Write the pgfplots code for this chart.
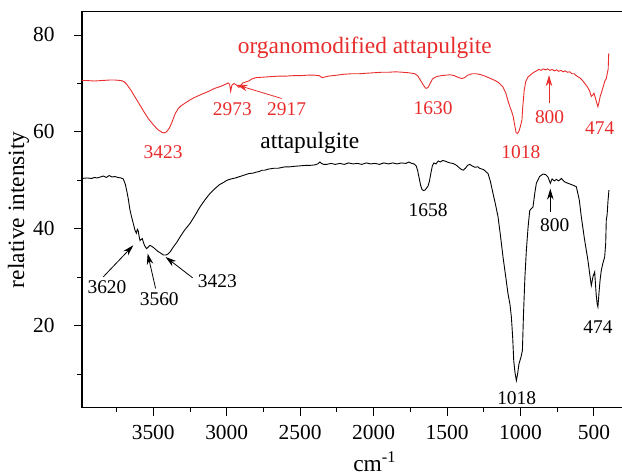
\documentclass[border=0pt]{standalone}
\usepackage{fontspec}
\setmainfont{Liberation Serif}
\usepackage{pgfplots}
\pgfplotsset{compat=1.18}
\usetikzlibrary{arrows.meta}
\definecolor{specred}{RGB}{232,44,44}

\pgfplotstableread{
x y
3985 70.6
3950 70.6
3900 70.5
3850 70.6
3800 70.7
3760 70.7
3720 70.6
3700 70.4
3680 69.8
3650 68.5
3620 67.0
3590 65.5
3560 64.0
3530 62.6
3500 61.5
3470 60.5
3440 59.9
3425 59.8
3410 60.0
3390 60.8
3370 62.2
3350 63.8
3330 64.8
3310 65.4
3280 66.0
3250 66.6
3220 67.1
3190 67.5
3160 67.9
3120 68.4
3080 69.0
3040 69.4
3010 69.8
2990 70.1
2980 69.8
2973 68.4
2965 69.6
2950 70.0
2930 69.6
2917 69.2
2905 69.6
2890 70.1
2870 70.3
2850 70.5
2830 70.9
2800 71.2
2750 71.3
2700 71.4
2650 71.5
2600 71.5
2550 71.6
2500 71.6
2450 71.7
2400 71.7
2370 71.6
2350 71.2
2335 71.3
2310 71.5
2250 71.7
2200 71.9
2150 72.0
2100 72.0
2050 72.1
2000 72.2
1950 72.3
1900 72.3
1850 72.4
1800 72.3
1760 72.2
1720 72.0
1700 71.6
1680 70.6
1660 69.6
1645 69.0
1630 69.1
1615 70.0
1600 70.9
1580 71.3
1560 71.5
1540 71.6
1510 71.7
1480 71.8
1450 71.6
1420 71.2
1400 71.0
1380 71.2
1360 71.7
1330 72.0
1300 72.0
1270 71.8
1240 71.5
1210 71.1
1180 70.7
1150 70.2
1120 69.3
1100 68.0
1085 66.4
1070 65.0
1060 64.2
1050 63.2
1040 61.5
1030 59.8
1020 59.7
1010 60.2
1000 61.2
990 62.5
985 65.0
975 68.5
965 70.3
950 71.3
930 71.8
910 72.3
890 72.6
875 72.9
860 72.7
845 73.0
830 72.8
815 73.0
800 72.7
785 72.9
770 72.6
755 72.8
740 72.5
725 72.7
710 72.4
695 72.6
680 72.3
665 72.4
650 72.0
635 72.0
620 71.6
605 71.3
590 71.0
575 70.5
560 69.9
545 69.3
530 68.5
518 67.3
508 67.6
500 68.0
490 67.0
480 65.9
473 65.2
465 66.2
457 67.4
450 68.0
440 69.0
427 70.4
416 71.0
409 72.1
403 73.0
400 75.9
398 76.2
}\redtab

\pgfplotstableread{
x y
3985 50.4
3950 50.5
3920 50.4
3900 50.6
3880 50.5
3860 50.7
3840 50.9
3820 50.6
3800 51.0
3780 50.7
3760 50.8
3740 50.6
3720 50.5
3704 50.3
3690 49.2
3680 47.8
3670 46.2
3658 43.8
3645 42.2
3635 41.0
3624 39.7
3615 39.1
3608 39.9
3602 39.6
3596 38.4
3590 37.6
3575 38.0
3560 36.6
3545 35.9
3535 36.2
3523 36.6
3505 36.3
3489 35.9
3470 35.4
3450 35.0
3430 34.6
3415 34.6
3400 34.8
3386 35.2
3360 36.4
3340 37.2
3318 38.3
3285 39.8
3250 41.1
3215 42.8
3182 44.5
3150 45.9
3114 47.3
3080 48.3
3050 49.1
3020 49.6
3000 50.0
2970 50.3
2940 50.5
2910 50.8
2880 51.1
2850 51.4
2820 51.5
2800 51.7
2780 51.8
2760 52.1
2740 52.1
2720 52.3
2700 52.4
2680 52.5
2650 52.5
2620 52.7
2600 52.8
2570 52.8
2540 52.9
2500 53.0
2460 53.1
2430 53.1
2400 53.2
2380 53.4
2365 53.8
2355 53.5
2340 53.3
2320 53.3
2290 53.5
2260 53.3
2230 53.5
2200 53.3
2170 53.6
2140 53.4
2110 53.5
2080 53.3
2050 53.6
2020 53.4
1990 53.5
1960 53.3
1930 53.6
1900 53.4
1870 53.6
1840 53.4
1810 53.6
1780 53.5
1760 53.8
1740 53.5
1725 53.4
1710 53.0
1700 52.0
1690 50.5
1680 49.0
1670 48.1
1660 47.9
1650 48.0
1640 48.4
1630 48.8
1620 49.8
1610 51.5
1600 53.0
1590 53.6
1575 53.4
1560 54.0
1545 53.8
1530 54.1
1515 54.0
1500 53.8
1480 53.6
1460 53.5
1440 53.2
1420 52.7
1405 52.3
1390 52.1
1375 52.5
1360 53.1
1345 53.3
1330 53.0
1310 52.7
1290 52.8
1278 52.5
1250 52.2
1221 51.4
1205 49.8
1187 47.3
1170 45.0
1153 42.5
1136 38.5
1119 34.2
1100 30.0
1085 26.6
1072 24.5
1062 21.8
1053 17.5
1046 12.8
1038 10.5
1028 8.7
1020 10.0
1010 12.2
997 13.5
987 14.9
980 22.0
970 30.0
960 35.6
948 40.5
937 43.8
925 44.2
915 44.5
902 47.5
892 49.4
870 50.8
847 51.3
830 51.2
813 50.7
797 49.4
785 50.3
770 49.9
756 50.2
740 49.9
722 50.4
700 49.7
677 49.4
650 49.1
620 48.7
600 46.0
586 42.5
565 38.0
541 33.5
528 30.5
518 28.3
506 30.2
495 31.1
485 26.5
478 24.5
473 23.9
465 27.0
458 29.5
450 31.4
440 32.8
427 34.2
420 37.0
416 41.8
410 43.0
405 45.5
398 48.0
}\blacktab

\begin{document}
\begin{tikzpicture}[
  ann/.style={line width=0.8bp, -{Stealth[length=11bp,width=6.5bp]}}]
\begin{axis}[
  name=ax,
  scale only axis,
  width=545bp, height=396bp,
  xmin=275, xmax=3985, x dir=reverse,
  ymin=3.1, ymax=84.8,
  clip=false,
  axis line style={line width=1.2bp},
  xtick={500,1000,1500,2000,2500,3000,3500},
  minor xtick={750,1250,1750,2250,2750,3250,3750},
  ytick={20,40,60,80},
  minor ytick={10,30,50,70},
  xtick pos=bottom, ytick pos=left,
  tick align=outside,
  major tick length=8bp, minor tick length=4.5bp,
  every tick/.style={black, line width=0.9bp},
  /pgf/number format/assume math mode=true,
  /pgf/number format/1000 sep={},
  tick label style={font=\fontsize{21.5}{25}\selectfont},
  xticklabel style={anchor=base, inner sep=0pt, yshift=-24bp},
  yticklabel style={anchor=east, inner sep=0pt, xshift=-19.3bp},
  xlabel={cm\textsuperscript{-1}},
  ylabel={relative intensity},
  label style={font=\fontsize{23.5}{28}\selectfont},
  xlabel style={at={(axis description cs:0.537,0)}, anchor=base, yshift=-63.5bp},
  ylabel style={at={(axis description cs:-0.1064,0.5)}, anchor=base},
]
\addplot[specred, line width=0.9bp] table[x=x,y=y] {\redtab};
\addplot[black, line width=0.9bp] table[x=x,y=y] {\blacktab};

% curve labels
\node[specred, font=\fontsize{23.5}{28}\selectfont] at (axis cs:2060,77.3) {organomodified attapulgite};
\node[black, font=\fontsize{23.5}{28}\selectfont] at (axis cs:2434,57.7) {attapulgite};

% red annotations
\begin{scope}[specred, every node/.style={font=\fontsize{19.5}{23}\selectfont, inner sep=0pt}]
\node at (axis cs:3433,55.8) {3423};
\node at (axis cs:2961,64.7) {2973};
\node at (axis cs:2592,64.7) {2917};
\node at (axis cs:1595,64.9) {1630};
\node at (axis cs:998,55.9) {1018};
\node at (axis cs:802,63.0) {800};
\node at (axis cs:461,60.8) {474};
\draw[ann] (axis cs:2626,66.9) -- (axis cs:2932,69.7);
\draw[ann] (axis cs:806,65.9) -- (axis cs:806,71.7);
\end{scope}

% black annotations
\begin{scope}[black, every node/.style={font=\fontsize{19.5}{23}\selectfont, inner sep=0pt}]
\node at (axis cs:1629,43.8) {1658};
\node at (axis cs:767,40.7) {800};
\node at (axis cs:1026,5.1) {1018};
\node at (axis cs:473,19.7) {474};
\node at (axis cs:3815,28.0) {3620};
\node at (axis cs:3459,25.6) {3560};
\node at (axis cs:3064,29.2) {3423};
\draw[ann] (axis cs:797,43.5) -- (axis cs:797,48.3);
\draw[ann] (axis cs:3840,30.1) -- (axis cs:3636,36.6);
\draw[ann] (axis cs:3484,27.7) -- (axis cs:3538,34.9);
\draw[ann] (axis cs:3232,29.9) -- (axis cs:3416,34.2);
\end{scope}
\end{axis}
\pgfresetboundingbox
\path (ax.south west) ++(-82bp,-67.3bp) coordinate (bbsw);
\path (ax.north west) ++(540bp,11.7bp) coordinate (bbne);
\path[use as bounding box] (bbsw) rectangle (bbne);
\end{tikzpicture}
\end{document}
